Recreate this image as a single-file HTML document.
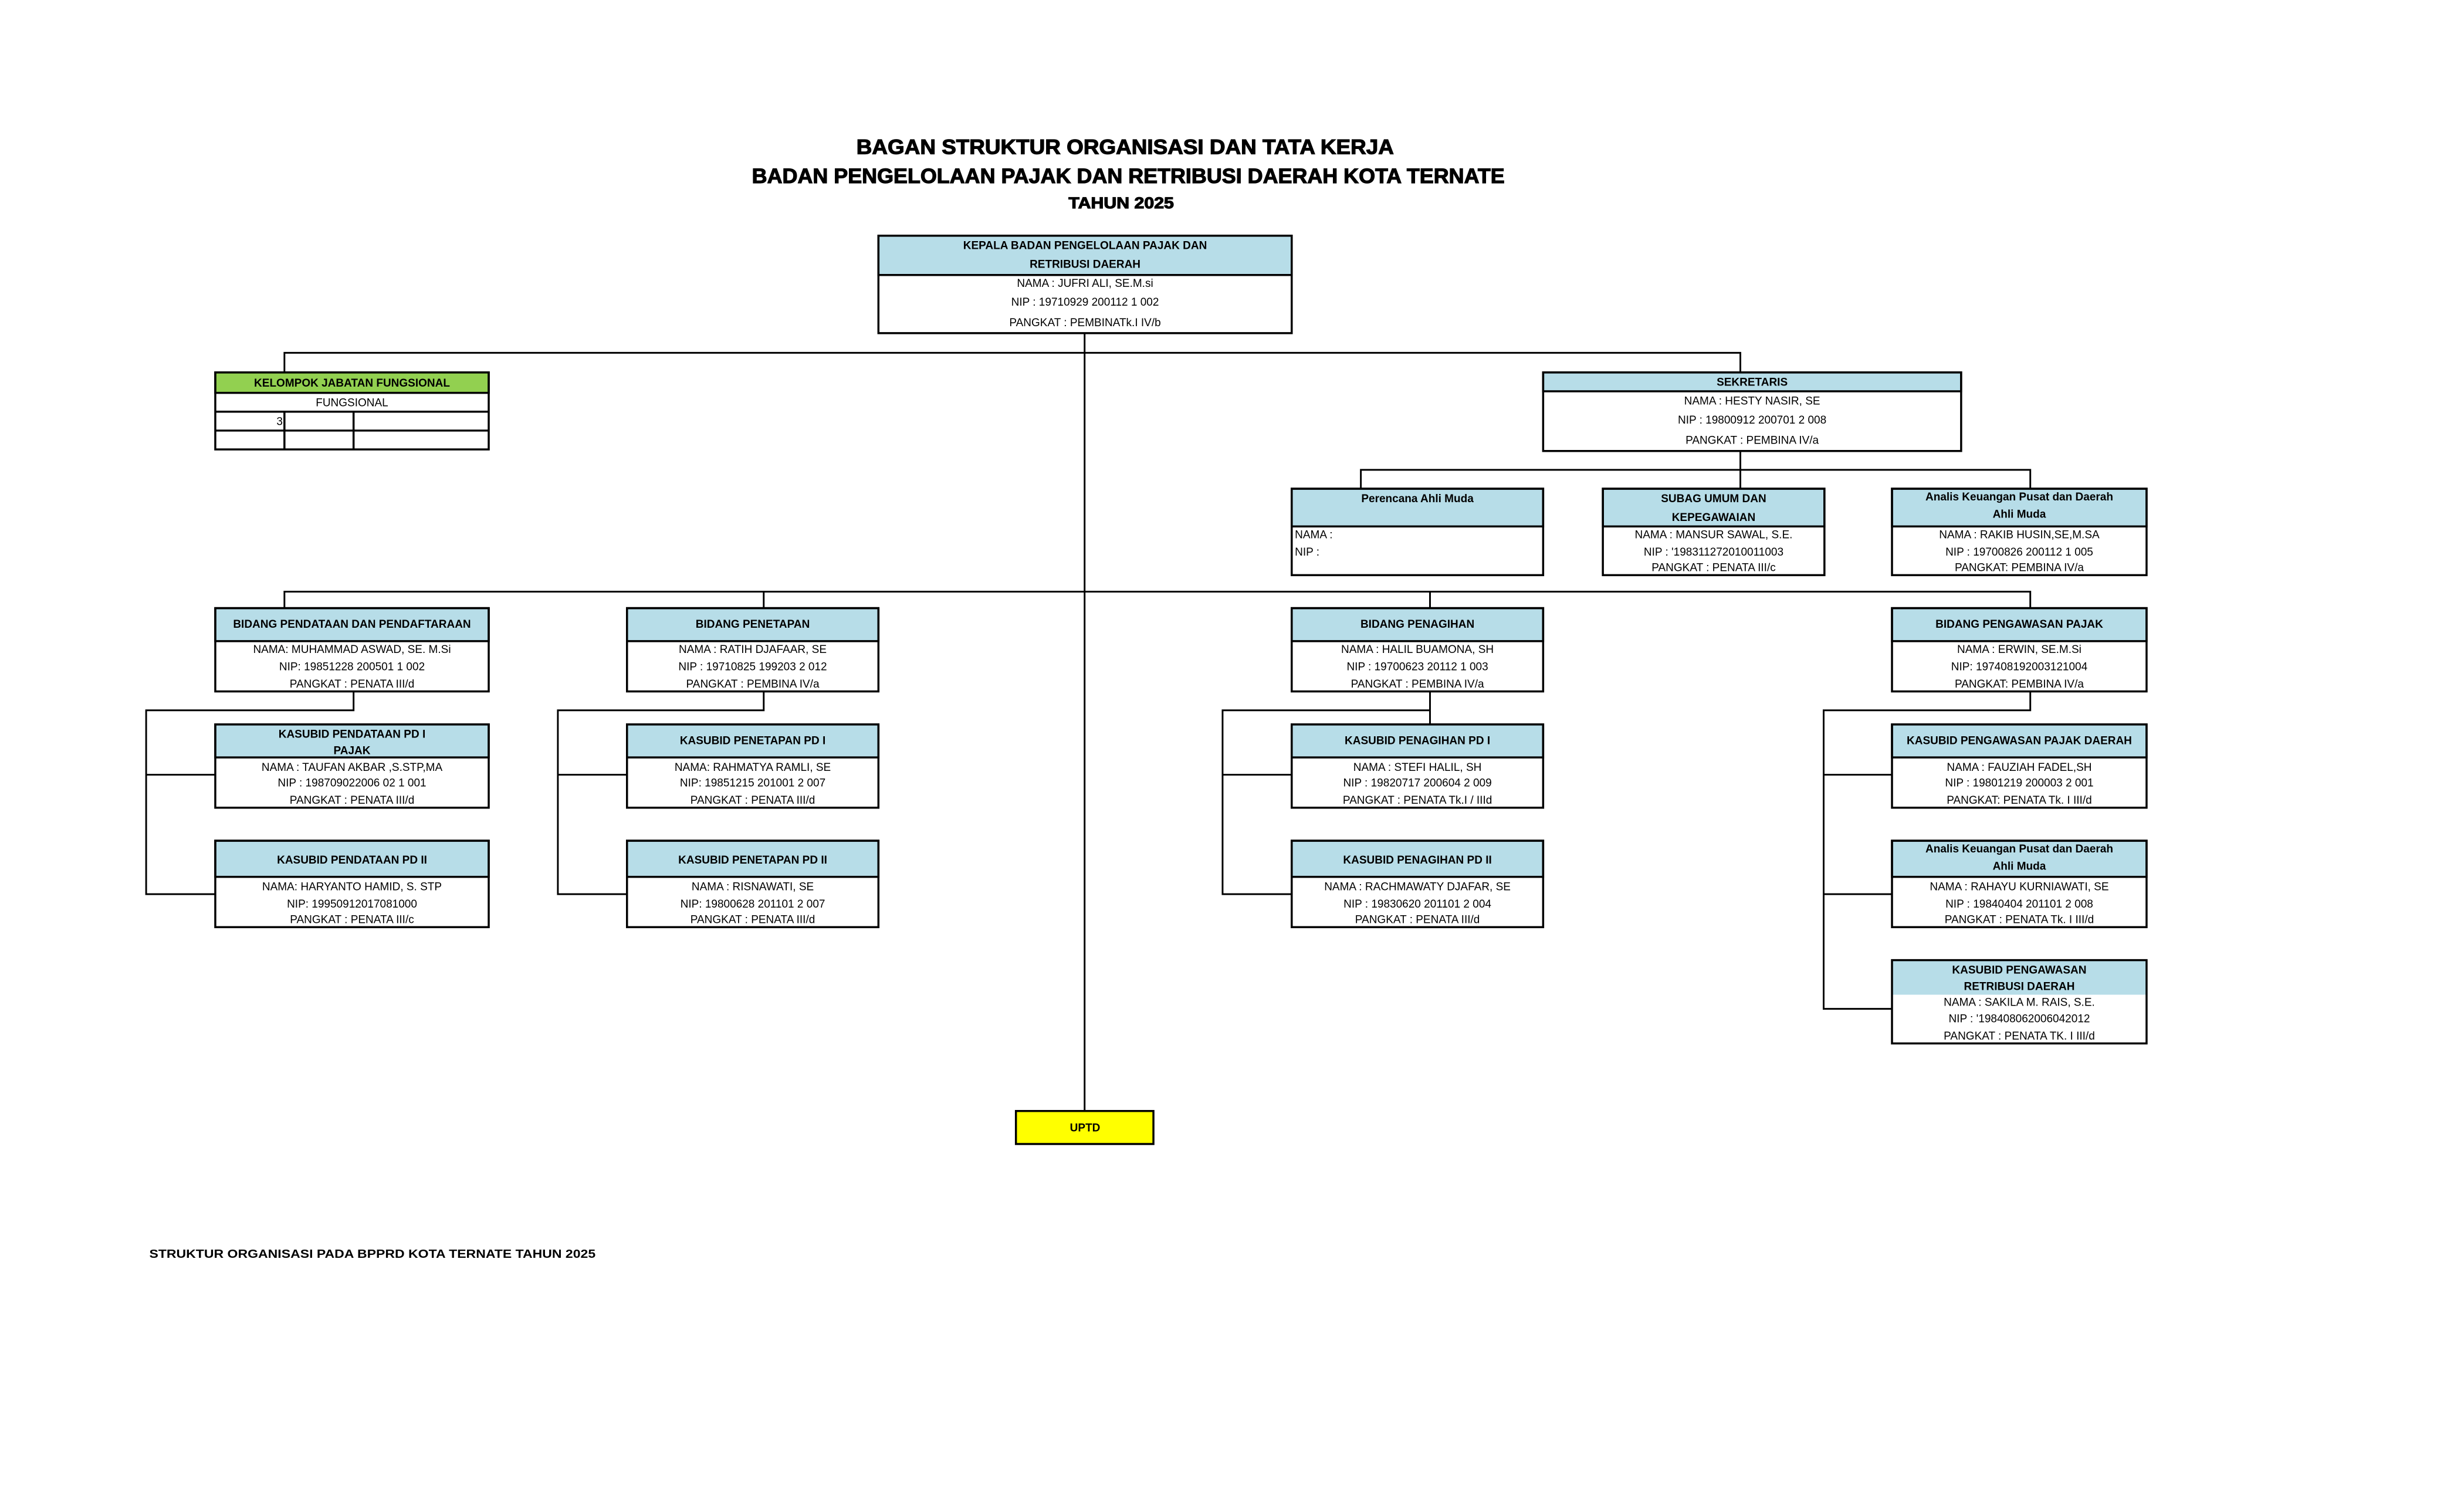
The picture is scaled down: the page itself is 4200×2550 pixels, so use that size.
<!DOCTYPE html>
<html><head><meta charset="utf-8"><style>
html,body{margin:0;padding:0;background:#fff;}
svg{display:block;}
text{font-family:"Liberation Sans",sans-serif;fill:#000;}
.h{font-weight:bold;font-size:7.1px;text-anchor:middle;}
.r{font-size:7.1px;text-anchor:middle;}
.l{font-size:7.1px;}
.t{font-weight:bold;text-anchor:middle;stroke:#000;stroke-width:0.45px;}
</style></head><body>
<svg width="4200" height="2550" viewBox="0 0 1568 952" xmlns="http://www.w3.org/2000/svg">
<rect x="0" y="0" width="1568" height="952" fill="#fff"/>
<text class="t" x="716" y="98" font-size="13" textLength="342" lengthAdjust="spacingAndGlyphs">BAGAN STRUKTUR ORGANISASI  DAN TATA KERJA</text>
<text class="t" x="718" y="116.5" font-size="13" textLength="479" lengthAdjust="spacingAndGlyphs">BADAN PENGELOLAAN PAJAK DAN RETRIBUSI DAERAH KOTA TERNATE</text>
<text class="t" x="713.5" y="132.5" font-size="10" textLength="67" lengthAdjust="spacingAndGlyphs">TAHUN 2025</text>

<g stroke="#000" stroke-width="1.1" fill="none">
<line x1="690.2" y1="212" x2="690.2" y2="707"/>
<polyline points="181,237 181,224.5 1107.5,224.5 1107.5,237"/>
<line x1="1107.5" y1="287" x2="1107.5" y2="311"/>
<polyline points="866,311 866,299 1292,299 1292,311"/>
<polyline points="181,387 181,376.5 1292,376.5 1292,387"/>
<line x1="486" y1="376.5" x2="486" y2="387"/>
<line x1="910" y1="376.5" x2="910" y2="387"/>
<polyline points="225,440 225,452 93,452 93,569 137,569"/>
<line x1="93" y1="493" x2="137" y2="493"/>
<polyline points="486,440 486,452 355,452 355,569 399,569"/>
<line x1="355" y1="493" x2="399" y2="493"/>
<line x1="910" y1="440" x2="910" y2="461"/>
<polyline points="910,452 778,452 778,569 822,569"/>
<line x1="778" y1="493" x2="822" y2="493"/>
<polyline points="1292,440 1292,452 1160.5,452 1160.5,642 1204,642"/>
<line x1="1160.5" y1="493" x2="1204" y2="493"/>
<line x1="1160.5" y1="569" x2="1204" y2="569"/>
</g>

<g stroke="#000" stroke-width="1.3">
<rect x="559" y="150" width="263" height="25" fill="#b7dde8"/>
<rect x="559" y="150" width="263" height="62" fill="none"/>
<rect x="137" y="237" width="174" height="13" fill="#92d050"/>
<rect x="137" y="237" width="174" height="49" fill="none"/>
<line x1="137" y1="262" x2="311" y2="262"/><line x1="137" y1="274" x2="311" y2="274"/>
<line x1="181" y1="262" x2="181" y2="286"/><line x1="225" y1="262" x2="225" y2="286"/>
<rect x="982" y="237" width="266" height="12" fill="#b7dde8"/>
<rect x="982" y="237" width="266" height="50" fill="none"/>
<rect x="822" y="311" width="160" height="24" fill="#b7dde8"/><rect x="822" y="311" width="160" height="55" fill="none"/>
<rect x="1020" y="311" width="141" height="24" fill="#b7dde8"/><rect x="1020" y="311" width="141" height="55" fill="none"/>
<rect x="1204" y="311" width="162" height="24" fill="#b7dde8"/><rect x="1204" y="311" width="162" height="55" fill="none"/>
<rect x="137" y="387" width="174" height="21" fill="#b7dde8"/><rect x="137" y="387" width="174" height="53" fill="none"/>
<rect x="399" y="387" width="160" height="21" fill="#b7dde8"/><rect x="399" y="387" width="160" height="53" fill="none"/>
<rect x="822" y="387" width="160" height="21" fill="#b7dde8"/><rect x="822" y="387" width="160" height="53" fill="none"/>
<rect x="1204" y="387" width="162" height="21" fill="#b7dde8"/><rect x="1204" y="387" width="162" height="53" fill="none"/>
<rect x="137" y="461" width="174" height="21" fill="#b7dde8"/><rect x="137" y="461" width="174" height="53" fill="none"/>
<rect x="399" y="461" width="160" height="21" fill="#b7dde8"/><rect x="399" y="461" width="160" height="53" fill="none"/>
<rect x="822" y="461" width="160" height="21" fill="#b7dde8"/><rect x="822" y="461" width="160" height="53" fill="none"/>
<rect x="1204" y="461" width="162" height="21" fill="#b7dde8"/><rect x="1204" y="461" width="162" height="53" fill="none"/>
<rect x="137" y="535" width="174" height="23" fill="#b7dde8"/><rect x="137" y="535" width="174" height="55" fill="none"/>
<rect x="399" y="535" width="160" height="23" fill="#b7dde8"/><rect x="399" y="535" width="160" height="55" fill="none"/>
<rect x="822" y="535" width="160" height="23" fill="#b7dde8"/><rect x="822" y="535" width="160" height="55" fill="none"/>
<rect x="1204" y="535" width="162" height="23" fill="#b7dde8"/><rect x="1204" y="535" width="162" height="55" fill="none"/>
<rect x="1204" y="611" width="162" height="22" fill="#b7dde8" stroke="none"/><rect x="1204" y="611" width="162" height="53" fill="none"/>
<rect x="646.5" y="707" width="87.5" height="21" fill="#ffff00"/>
</g>

<text class="h" x="690.5" y="158.5">KEPALA BADAN PENGELOLAAN PAJAK DAN</text>
<text class="h" x="690.5" y="170.5">RETRIBUSI DAERAH</text>
<text class="r" x="690.5" y="182.5">NAMA :  JUFRI ALI, SE.M.si</text>
<text class="r" x="690.5" y="194.5">NIP :  19710929 200112 1 002</text>
<text class="r" x="690.5" y="207.5">PANGKAT :  PEMBINATk.I  IV/b</text>

<text class="h" x="224" y="246">KELOMPOK JABATAN FUNGSIONAL</text>
<text class="r" x="224" y="258.5">FUNGSIONAL</text>
<text class="l" x="176" y="270.5" font-size="5.5">3</text>

<text class="h" x="1115" y="245.5">SEKRETARIS</text>
<text class="r" x="1115" y="257.5">NAMA :  HESTY NASIR, SE</text>
<text class="r" x="1115" y="269.5">NIP :  19800912 200701 2 008</text>
<text class="r" x="1115" y="282.5">PANGKAT :  PEMBINA IV/a</text>

<text class="h" x="902" y="319.5">Perencana Ahli Muda</text>
<text class="l" x="824" y="342.5">NAMA :</text>
<text class="l" x="824" y="353.5">NIP :</text>

<text class="h" x="1090.5" y="319.5">SUBAG UMUM DAN</text>
<text class="h" x="1090.5" y="331.5">KEPEGAWAIAN</text>
<text class="r" x="1090.5" y="342.5">NAMA : MANSUR SAWAL, S.E.</text>
<text class="r" x="1090.5" y="353.5">NIP : '198311272010011003</text>
<text class="r" x="1090.5" y="363.5">PANGKAT : PENATA  III/c</text>

<text class="h" x="1285" y="318.5">Analis Keuangan Pusat dan Daerah</text>
<text class="h" x="1285" y="329.5">Ahli Muda</text>
<text class="r" x="1285" y="342.5">NAMA :  RAKIB HUSIN,SE,M.SA</text>
<text class="r" x="1285" y="353.5">NIP :  19700826 200112 1 005</text>
<text class="r" x="1285" y="363.5">PANGKAT:  PEMBINA IV/a</text>

<text class="h" x="224" y="399.5">BIDANG PENDATAAN DAN PENDAFTARAAN</text>
<text class="r" x="224" y="415.5">NAMA: MUHAMMAD ASWAD, SE. M.Si</text>
<text class="r" x="224" y="426.5">NIP: 19851228 200501 1 002</text>
<text class="r" x="224" y="437.5">PANGKAT :  PENATA III/d</text>

<text class="h" x="479" y="399.5">BIDANG PENETAPAN</text>
<text class="r" x="479" y="415.5">NAMA :  RATIH DJAFAAR, SE</text>
<text class="r" x="479" y="426.5">NIP :  19710825 199203 2 012</text>
<text class="r" x="479" y="437.5">PANGKAT :   PEMBINA IV/a</text>

<text class="h" x="902" y="399.5">BIDANG PENAGIHAN</text>
<text class="r" x="902" y="415.5">NAMA : HALIL BUAMONA, SH</text>
<text class="r" x="902" y="426.5">NIP : 19700623 20112 1 003</text>
<text class="r" x="902" y="437.5">PANGKAT :  PEMBINA IV/a</text>

<text class="h" x="1285" y="399.5">BIDANG PENGAWASAN PAJAK</text>
<text class="r" x="1285" y="415.5">NAMA : ERWIN, SE.M.Si</text>
<text class="r" x="1285" y="426.5">NIP: 197408192003121004</text>
<text class="r" x="1285" y="437.5">PANGKAT:  PEMBINA IV/a</text>

<text class="h" x="224" y="469.5">KASUBID PENDATAAN PD I</text>
<text class="h" x="224" y="480">PAJAK</text>
<text class="r" x="224" y="490.5">NAMA : TAUFAN AKBAR ,S.STP,MA</text>
<text class="r" x="224" y="500.5">NIP : 198709022006 02 1 001</text>
<text class="r" x="224" y="511.5">PANGKAT :  PENATA III/d</text>

<text class="h" x="479" y="473.5">KASUBID PENETAPAN PD I</text>
<text class="r" x="479" y="490.5">NAMA: RAHMATYA RAMLI, SE</text>
<text class="r" x="479" y="500.5">NIP: 19851215 201001 2 007</text>
<text class="r" x="479" y="511.5">PANGKAT :  PENATA III/d</text>

<text class="h" x="902" y="473.5">KASUBID PENAGIHAN PD I</text>
<text class="r" x="902" y="490.5">NAMA : STEFI HALIL, SH</text>
<text class="r" x="902" y="500.5">NIP : 19820717 200604 2 009</text>
<text class="r" x="902" y="511.5">PANGKAT : PENATA Tk.I / IIId</text>

<text class="h" x="1285" y="473.5">KASUBID PENGAWASAN PAJAK DAERAH</text>
<text class="r" x="1285" y="490.5">NAMA :  FAUZIAH FADEL,SH</text>
<text class="r" x="1285" y="500.5">NIP :  19801219 200003 2 001</text>
<text class="r" x="1285" y="511.5">PANGKAT:  PENATA Tk. I III/d</text>

<text class="h" x="224" y="549.5">KASUBID PENDATAAN PD II</text>
<text class="r" x="224" y="566.5">NAMA: HARYANTO HAMID, S. STP</text>
<text class="r" x="224" y="577.5">NIP: 19950912017081000</text>
<text class="r" x="224" y="587.5">PANGKAT : PENATA III/c</text>

<text class="h" x="479" y="549.5">KASUBID PENETAPAN PD II</text>
<text class="r" x="479" y="566.5">NAMA :  RISNAWATI, SE</text>
<text class="r" x="479" y="577.5">NIP: 19800628 201101 2 007</text>
<text class="r" x="479" y="587.5">PANGKAT :  PENATA III/d</text>

<text class="h" x="902" y="549.5">KASUBID PENAGIHAN PD II</text>
<text class="r" x="902" y="566.5">NAMA :  RACHMAWATY DJAFAR, SE</text>
<text class="r" x="902" y="577.5">NIP :  19830620 201101 2 004</text>
<text class="r" x="902" y="587.5">PANGKAT :  PENATA III/d</text>

<text class="h" x="1285" y="542.5">Analis Keuangan Pusat dan Daerah</text>
<text class="h" x="1285" y="553.5">Ahli Muda</text>
<text class="r" x="1285" y="566.5">NAMA :  RAHAYU KURNIAWATI, SE</text>
<text class="r" x="1285" y="577.5">NIP :  19840404 201101 2 008</text>
<text class="r" x="1285" y="587.5">PANGKAT :   PENATA Tk. I III/d</text>

<text class="h" x="1285" y="619.5">KASUBID PENGAWASAN</text>
<text class="h" x="1285" y="630">RETRIBUSI DAERAH</text>
<text class="r" x="1285" y="640">NAMA : SAKILA M. RAIS, S.E.</text>
<text class="r" x="1285" y="650.5">NIP : '198408062006042012</text>
<text class="r" x="1285" y="661.5">PANGKAT : PENATA TK. I III/d</text>

<text class="h" x="690.5" y="720">UPTD</text>

<text x="95" y="800.5" font-size="7.6" font-weight="bold" textLength="284" lengthAdjust="spacingAndGlyphs">STRUKTUR ORGANISASI PADA BPPRD KOTA TERNATE TAHUN 2025</text>
</svg>
</body></html>
